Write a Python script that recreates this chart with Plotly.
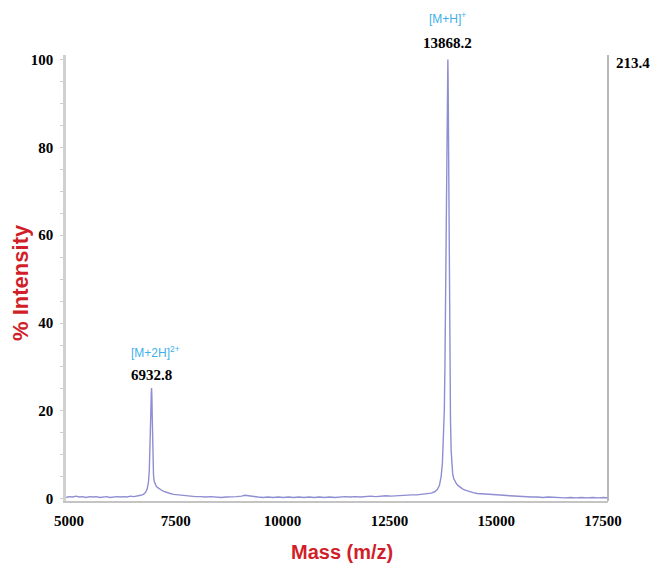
import plotly.graph_objects as go

# ---- data ----
mass = [4935, 5000, 5080, 5160, 5240, 5320, 5400, 5480, 5560, 5640, 5720, 5800, 5880, 5960,
        6040, 6120, 6200, 6280, 6360, 6440, 6520, 6600, 6680, 6740, 6790, 6830, 6860, 6880,
        6895, 6908, 6918, 6926, 6932.8, 6940, 6948, 6956, 6966, 6978, 6995, 7015, 7040, 7070,
        7110, 7160, 7220, 7290, 7370, 7450, 7540, 7640, 7740, 7850, 7960, 8080, 8200, 8320,
        8440, 8560, 8680, 8800, 8920, 9040, 9120, 9200, 9300, 9420, 9540, 9660, 9780, 9900,
        10020, 10140, 10260, 10380, 10500, 10620, 10740, 10860, 10980, 11100, 11220, 11340,
        11460, 11580, 11700, 11820, 11940, 12060, 12180, 12300, 12420, 12540, 12660, 12780,
        12900, 13020, 13140, 13260, 13380, 13480, 13560, 13620, 13670, 13710, 13740, 13765,
        13785, 13800, 13815, 13828, 13840, 13850, 13858, 13864, 13868.2, 13873, 13880, 13888,
        13897, 13907, 13918, 13930, 13945, 13962, 13982, 14005, 14035, 14070, 14110, 14160,
        14220, 14290, 14370, 14460, 14560, 14670, 14790, 14920, 15050, 15180, 15310, 15440,
        15570, 15700, 15830, 15960, 16090, 16220, 16350, 16480, 16610, 16740, 16870, 17000,
        17130, 17260, 17390, 17520, 17610]
intensity = [0.3, 0.5, 0.4, 0.6, 0.4, 0.5, 0.3, 0.5, 0.4, 0.5, 0.3, 0.4, 0.5, 0.3,
             0.4, 0.5, 0.4, 0.5, 0.4, 0.6, 0.5, 0.6, 0.8, 1.0, 1.4, 2.2, 3.8, 6.5,
             10.5, 15.5, 20.5, 24.0, 25.2, 23.5, 19.0, 13.5, 8.5, 5.5, 4.0, 3.3, 2.9, 2.6,
             2.3, 2.0, 1.7, 1.4, 1.2, 1.0, 0.9, 0.8, 0.7, 0.6, 0.5, 0.5, 0.4, 0.5,
             0.4, 0.3, 0.4, 0.4, 0.5, 0.6, 0.8, 0.7, 0.5, 0.4, 0.3, 0.4, 0.3, 0.4,
             0.3, 0.4, 0.3, 0.4, 0.3, 0.4, 0.3, 0.4, 0.3, 0.4, 0.3, 0.4,
             0.5, 0.4, 0.5, 0.4, 0.5, 0.6, 0.5, 0.6, 0.7, 0.6, 0.7, 0.8,
             0.8, 0.9, 0.9, 1.0, 1.1, 1.3, 1.6, 2.1, 3.0, 5.0, 8.0, 13.0,
             20.0, 30.0, 44.0, 58.0, 72.0, 84.0, 93.0, 98.0, 100.0, 97.0, 88.0, 74.0,
             58.0, 42.0, 28.0, 18.0, 11.0, 7.5, 5.6, 4.6, 3.9, 3.4, 3.0, 2.6,
             2.2, 1.9, 1.6, 1.4, 1.2, 1.1, 1.0, 0.9, 0.8, 0.8, 0.7, 0.6,
             0.5, 0.5, 0.4, 0.4, 0.3, 0.4, 0.3, 0.3, 0.2, 0.3, 0.2, 0.3,
             0.2, 0.3, 0.2, 0.3, 0.2]

x_ticks = [5000, 7500, 10000, 12500, 15000, 17500]
y_ticks = [0, 20, 40, 60, 80, 100]

peak_masses = [13868.2, 6932.8]
peak_labels = ["13868.2", "6932.8"]
ion_labels = ["[M+H]<sup>+</sup>", "[M+2H]<sup>2+</sup>"]
max_abs_intensity = "213.4"

fig = go.Figure()
fig.add_trace(go.Scatter(x=mass, y=intensity, mode="lines",
                         line=dict(color="#8e8ed2", width=1.4), hoverinfo="skip"))

tickfont = dict(family="Liberation Serif", size=15, color="black", weight="bold")

fig.update_layout(
    width=656, height=566,
    margin=dict(l=66, r=48, t=55, b=65),
    paper_bgcolor="white", plot_bgcolor="white",
    showlegend=False,
    xaxis=dict(range=[4930, 17617], tickvals=x_ticks, ticktext=[str(v) for v in x_ticks],
               showgrid=False, zeroline=False, showline=True, linecolor="#c4c4c4",
               linewidth=1.5, ticks="", tickfont=tickfont, ticklabelstandoff=5),
    yaxis=dict(range=[-0.5, 101], tickvals=y_ticks, ticktext=[str(v) for v in y_ticks],
               showgrid=False, zeroline=False, showline=True, linecolor="#d0d0d0",
               linewidth=2.5, ticks="outside", ticklen=3, tickcolor="#d0d0d0",
               minor=dict(dtick=5, ticks="outside", ticklen=3, tickcolor="#d0d0d0"),
               tickfont=tickfont, ticklabelstandoff=4),
)

# right boundary line
fig.add_shape(type="line", xref="paper", yref="paper", x0=1, x1=1, y0=0, y1=1,
              line=dict(color="#a0a0a0", width=1.5))

annotations = [
    dict(x=peak_masses[0], y=1.083, text=ion_labels[0],
         font=dict(family="Liberation Sans", size=12, color="#3db0ea")),
    dict(x=peak_masses[0], y=1.027, text=peak_labels[0], font=tickfont),
    dict(x=peak_masses[1], y=0.334, text=ion_labels[1], xshift=4,
         font=dict(family="Liberation Sans", size=12, color="#3db0ea")),
    dict(x=peak_masses[1], y=0.2825, text=peak_labels[1], font=tickfont),
]
for a in annotations:
    fig.add_annotation(xref="x", yref="paper", showarrow=False, xanchor="center",
                       yanchor="middle", **a)

fig.add_annotation(xref="paper", yref="paper", x=1, y=0.982, xshift=6, text=max_abs_intensity,
                   showarrow=False, xanchor="left", yanchor="middle", font=tickfont)

fig.add_annotation(xref="paper", yref="paper", x=-0.084, y=0.49, text="% Intensity",
                   textangle=-90, showarrow=False, xanchor="center", yanchor="middle",
                   font=dict(family="Liberation Sans", size=22, color="#d11f2a", weight="bold"))
fig.add_annotation(xref="paper", yref="paper", x=0.509, y=-0.115, text="Mass (m/z)",
                   showarrow=False, xanchor="center", yanchor="middle",
                   font=dict(family="Liberation Sans", size=20, color="#d11f2a", weight="bold"))

fig.write_html("out.html", config={"displayModeBar": False},
               post_script="document.body.style.margin='0';document.body.style.overflow='hidden';")
